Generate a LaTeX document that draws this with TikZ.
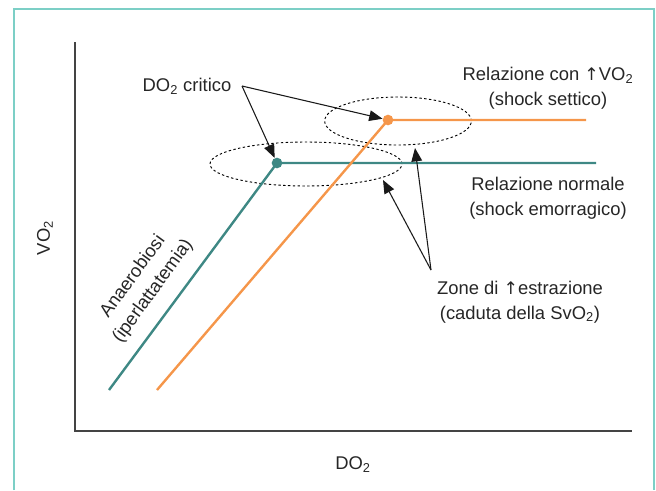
\documentclass[tikz,border=0pt]{standalone}
\usepackage{fontspec}
\setmainfont{Liberation Sans}
\newfontfamily\arrowfont{DejaVu Sans}
\usepackage{tikz}
\usetikzlibrary{arrows.meta,positioning,shapes.geometric}
\definecolor{svFrame}{HTML}{7CCFC6}
\definecolor{svTeal}{HTML}{3E8884}
\definecolor{svOrange}{HTML}{F5964A}
\definecolor{svAxis}{HTML}{444444}
\newcommand{\uparr}{{\arrowfont\fontsize{13}{15}\selectfont ↑}}
\tikzset{
    every picture/.style={x=0.75pt,y=-0.75pt},
    lbl/.style={font=\fontsize{13.8}{18.5}\selectfont,align=center,inner sep=0pt,text=black!85},
    axisline/.style={line width=1.1pt,svAxis},
    curveteal/.style={line width=1.8pt,svTeal},
    curveorange/.style={line width=1.8pt,svOrange},
    dotteal/.style={circle,fill=svTeal,inner sep=0pt,minimum size=8pt},
    dotorange/.style={circle,fill=svOrange,inner sep=0pt,minimum size=8pt},
    zone/.style={ellipse,draw,dash pattern=on 1.8pt off 1.8pt,line width=0.7pt,inner sep=0pt},
    pointer/.style={-{Triangle[length=10pt,width=8pt]},line width=0.8pt,black!90}
}

\begin{document}
\begin{tikzpicture}

\useasboundingbox (0,0) rectangle (656,490);

% Frame, open at the bottom
\draw[svFrame,line width=2pt] (14,490) -- (14,9) -- (654,9) -- (654,490);

% Axes
\coordinate (ytop) at (75,42);
\coordinate (origin) at (75,431);
\coordinate (xend) at (632,431);
\draw[axisline] (ytop) -- (origin) -- (xend);
\node[lbl] at (353,465) (xlabel) {DO\textsubscript{2}};
\node[lbl,rotate=90] at (45,238) (ylabel) {VO\textsubscript{2}};

% Dashed zones of increased extraction
\node[zone,minimum width=144pt,minimum height=33pt] at (306,164) (lowzone) {};
\node[zone,minimum width=110pt,minimum height=36pt] at (398,121) (highzone) {};

% Normal relation (teal)
\coordinate (tealstart) at (109,390);
\node[dotteal] at (277,163) (tealcrit) {};
\coordinate (tealend) at (596,163);
\draw[curveteal] (tealstart) -- (tealcrit.center) -- (tealend);

% Septic relation (orange)
\coordinate (orangestart) at (157,390);
\node[dotorange] at (388,120) (orangecrit) {};
\coordinate (orangeend) at (586,120);
\draw[curveorange] (orangestart) -- (orangecrit.center) -- (orangeend);

% Labels
\node[lbl] at (187,86) (critico) {DO\textsubscript{2} critico};
\node[lbl] at (548,88) (septic) {Relazione con \uparr VO\textsubscript{2}\\(shock settico)};
\node[lbl] at (548,198) (normal) {Relazione normale\\(shock emorragico)};
\node[lbl] at (520,302) (extract) {Zone di \uparr estrazione\\(caduta della SvO\textsubscript{2})};
\node[lbl,rotate=54] at (143,284) (anaer) {Anaerobiosi\\(iperlattatemia)};

% Pointers
\coordinate (critsplit) at (242,86);
\draw[pointer] (critsplit) -- (tealcrit);
\draw[pointer] (critsplit) -- (orangecrit);

\coordinate (zonesplit) at (431,270);
\coordinate (lowtip) at (383,180);
\coordinate (hightip) at (415,148);
\draw[pointer] (zonesplit) -- (lowtip);
\draw[pointer] (zonesplit) -- (hightip);

\end{tikzpicture}
\end{document}
